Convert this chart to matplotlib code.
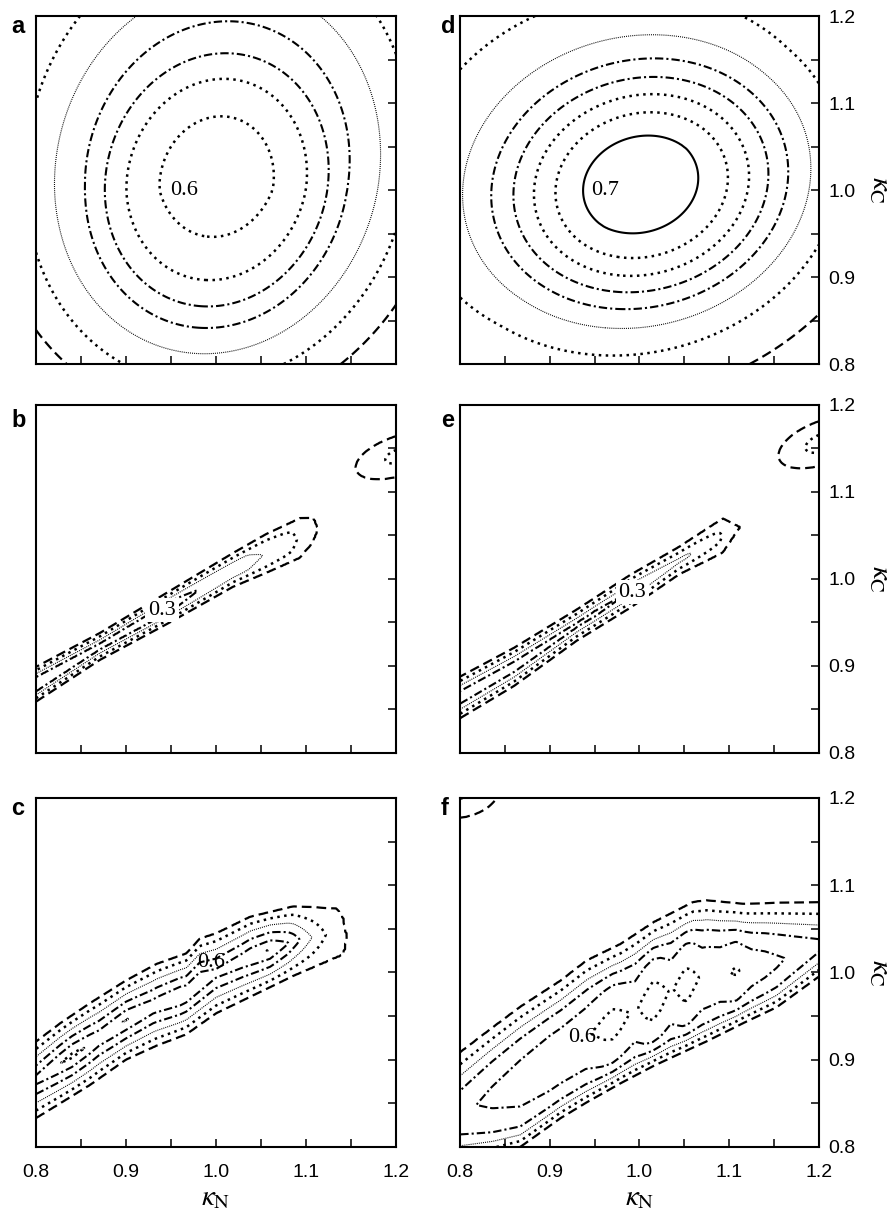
import numpy as np
import matplotlib
matplotlib.use("Agg")
import matplotlib.pyplot as plt
from matplotlib.ticker import MultipleLocator, FormatStrFormatter

plt.rcParams['font.family'] = ['Liberation Sans', 'DejaVu Sans']
plt.rcParams['mathtext.fontset'] = 'stix'
plt.rcParams['lines.scale_dashes'] = False

# contour levels and the line style of each level
levels = [0.0, 0.1, 0.2, 0.3, 0.4, 0.5, 0.6, 0.7]
dash = (0, (7, 3.6))
dot = (0, (1.8, 3.2))
fine = (0, (0.7, 0.8))
dashdot = (0, (6, 2.2, 1.5, 2.2))
styles = [dash, dot, fine, dashdot, dashdot, dot, dot, 'solid']
widths = [1.6, 1.8, 0.8, 1.5, 1.5, 1.8, 1.8, 1.5]

# --- a: single peak (radial profile, radius measured along kappa_N)
a_centre = [1.0, 1.0]
a_shape = [1.17, 0.08]          # kappa_C stretch, correlation
a_radius = [0.0, 0.063, 0.100, 0.124, 0.146, 0.180, 0.212, 0.255, 0.45]
a_value = [0.66, 0.6, 0.5, 0.4, 0.3, 0.2, 0.1, 0.0, -0.4]
a_tilt = [0.0, 0.3]             # slope along kappa_N, kappa_C

# --- d: single peak
d_centre = [1.006, 1.003]
d_shape = [0.87, 0.10]
d_radius = [0.0, 0.066, 0.0965, 0.120, 0.142, 0.165, 0.192, 0.232, 0.310, 0.45]
d_value = [0.78, 0.7, 0.6, 0.5, 0.4, 0.3, 0.2, 0.1, 0.0, -0.4]
d_tilt = [-0.15, 0.15]

# --- b: narrow ridge (edges of the ridge, crest height along kappa_N)
b_x = [0.80, 0.871, 0.945, 1.019, 1.056, 1.093, 1.108, 1.114, 1.20]
b_upper = [0.899, 0.938, 0.984, 1.030, 1.052, 1.070, 1.071, 1.058, 0.90]
b_lower = [0.859, 0.907, 0.948, 0.991, 1.007, 1.024, 1.042, 1.058, 1.20]
b_inset = [-0.05, 0.0, 0.004, 0.008, 0.012, 0.03]
b_ramp = [-1.4, 0.0, 0.286, 0.571, 0.857, 1.14]
b_crest_x = [0.80, 0.95, 0.975, 1.027, 1.075, 1.112, 1.20]
b_crest_v = [0.36, 0.35, 0.32, 0.25, 0.15, 0.02, 0.0]
b_spot_centre = [1.205, 1.142]
b_spot_shape = [0.55, 0.5]
b_spot_radius = [0.0, 0.017, 0.05, 0.10]
b_spot_value = [0.14, 0.1, 0.0, -0.3]

# --- e: narrow ridge
e_x = [0.80, 0.86, 0.93, 0.99, 1.044, 1.093, 1.113, 1.20]
e_upper = [0.888, 0.921, 0.965, 1.005, 1.037, 1.070, 1.060, 0.90]
e_lower = [0.840, 0.877, 0.929, 0.967, 1.005, 1.030, 1.060, 1.20]
e_inset = [-0.05, 0.0, 0.005, 0.010, 0.015, 0.035]
e_crest_x = [0.80, 0.95, 1.00, 1.05, 1.083, 1.111, 1.20]
e_crest_v = [0.34, 0.35, 0.32, 0.25, 0.15, 0.02, 0.0]
e_spot_centre = [1.205, 1.157]
e_spot_shape = [0.6, 0.5]
e_spot_radius = [0.0, 0.02, 0.05, 0.10]
e_spot_value = [0.14, 0.1, 0.0, -0.3]

# --- c: broad ridge ending near kappa_N = 1.14
c_x = [0.80, 0.827, 0.86, 0.90, 0.934, 0.967, 0.982, 1.00, 1.038, 1.086, 1.134, 1.142, 1.146, 1.20]
c_upper = [0.921, 0.942, 0.965, 0.991, 1.010, 1.022, 1.039, 1.045, 1.064, 1.076, 1.074, 1.062, 1.040, 0.90]
c_lower = [0.833, 0.850, 0.871, 0.900, 0.916, 0.929, 0.940, 0.953, 0.972, 0.996, 1.017, 1.020, 1.040, 1.20]
c_inset = [-0.05, 0.0, 0.008, 0.016, 0.025, 0.035, 0.046, 0.07]
c_ramp = [-1.0, 0.0, 0.2, 0.4, 0.6, 0.8, 1.0, 1.2]
c_crest_x = [0.80, 0.84, 0.87, 0.90, 0.93, 0.96, 1.00, 1.03, 1.06, 1.08, 1.10, 1.12, 1.142, 1.20]
c_crest_v = [0.46, 0.52, 0.47, 0.51, 0.46, 0.49, 0.44, 0.47, 0.53, 0.45, 0.30, 0.15, 0.02, 0.0]

# --- f: wide plateau band
f_x = [0.80, 0.837, 0.867, 0.912, 0.941, 0.979, 1.016, 1.060, 1.075, 1.116, 1.153, 1.20]
f_upper = [0.909, 0.938, 0.961, 0.991, 1.014, 1.033, 1.058, 1.081, 1.083, 1.079, 1.080, 1.081]
f_lower = [0.785, 0.792, 0.800, 0.833, 0.851, 0.873, 0.893, 0.914, 0.921, 0.942, 0.960, 0.995]
f_inset_up = [-0.05, 0.0, 0.011, 0.021, 0.031, 0.045, 0.075, 0.12]
f_inset_lo = [-0.05, 0.0, 0.006, 0.012, 0.019, 0.030, 0.060, 0.12]
f_ramp = [-1.0, 0.0, 0.2, 0.4, 0.6, 0.8, 1.0, 1.2]
f_crest_x = [0.80, 0.835, 0.90, 0.94, 0.97, 0.995, 1.015, 1.035, 1.052, 1.07, 1.09,
             1.108, 1.125, 1.14, 1.172, 1.20]
f_crest_v = [0.38, 0.42, 0.46, 0.465, 0.515, 0.465, 0.525, 0.465, 0.51, 0.465, 0.47,
             0.503, 0.47, 0.46, 0.42, 0.39]
f_spot_centre = [0.79, 1.215]
f_spot_shape = [0.7, 0.0]
f_spot_radius = [0.0, 0.025, 0.055, 0.10]
f_spot_value = [0.15, 0.1, 0.0, -0.3]

# contour label positions (kappa_N, kappa_C) and the level they name
label_pos = {'a': (0.964, 1.000, 0.6), 'd': (0.962, 0.999, 0.7),
             'b': (0.940, 0.964, 0.3), 'e': (0.992, 0.985, 0.3),
             'c': (0.995, 1.011, 0.6), 'f': (0.936, 0.926, 0.6)}


def peak(X, Y, centre, shape, radius, value, tilt=(0.0, 0.0)):
    dx = X - centre[0]
    dy = (Y - centre[1]) / shape[0]
    rho = shape[1]
    r = np.sqrt(np.maximum(dx**2 + dy**2 - 2 * rho * dx * dy, 0) / (1 - rho**2))
    return np.interp(r, radius, value) + tilt[0] * dx + tilt[1] * (Y - centre[1])


def band(X, Y, xs, upper, lower, inset_up, ramp_up, inset_lo, ramp_lo, crest_x, crest_v):
    U = np.interp(X, xs, upper)
    L = np.interp(X, xs, lower)
    s = np.minimum(np.interp(U - Y, inset_up, ramp_up),
                   np.interp(Y - L, inset_lo, ramp_lo))
    crest = np.interp(X, crest_x, crest_v)
    return np.where(s > 0, crest * s, s)


kn = np.linspace(0.8, 1.2, 241)
KN, KC = np.meshgrid(kn, kn)

Z = {}
Z['a'] = peak(KN, KC, a_centre, a_shape, a_radius, a_value, a_tilt)
Z['d'] = peak(KN, KC, d_centre, d_shape, d_radius, d_value, d_tilt)
Z['b'] = np.maximum(band(KN, KC, b_x, b_upper, b_lower, b_inset, b_ramp, b_inset, b_ramp,
                         b_crest_x, b_crest_v),
                    peak(KN, KC, b_spot_centre, b_spot_shape, b_spot_radius, b_spot_value))
Z['e'] = np.maximum(band(KN, KC, e_x, e_upper, e_lower, e_inset, b_ramp, e_inset, b_ramp,
                         e_crest_x, e_crest_v),
                    peak(KN, KC, e_spot_centre, e_spot_shape, e_spot_radius, e_spot_value))
Z['c'] = band(KN, KC, c_x, c_upper, c_lower, c_inset, c_ramp, c_inset, c_ramp,
              c_crest_x, c_crest_v)
Z['f'] = np.maximum(band(KN, KC, f_x, f_upper, f_lower, f_inset_up, f_ramp, f_inset_lo, f_ramp,
                         f_crest_x, f_crest_v),
                    peak(KN, KC, f_spot_centre, f_spot_shape, f_spot_radius, f_spot_value))

fig = plt.figure(figsize=(8.92, 12.22), dpi=100)
cols = [0.0404, 0.5160]
col_w = [0.4036, 0.4018]
rows = [0.7021, 0.3838, 0.0614]
row_h = [0.2848, 0.2848, 0.2856]
names = [['a', 'd'], ['b', 'e'], ['c', 'f']]
letter_x = [0.013, 0.494]
letter_y = [1 - 33 / 1222, 1 - 427 / 1222, 1 - 815 / 1222]

for i in range(3):
    for j in range(2):
        name = names[i][j]
        ax = fig.add_axes([cols[j], rows[i], col_w[j], row_h[i]])
        ax.contour(KN, KC, Z[name], levels=levels, colors='k',
                   linestyles=styles, linewidths=widths)
        x, y, lev = label_pos[name]
        box = None
        if name in ('b', 'e'):
            box = dict(facecolor='white', edgecolor='none', pad=2)
        ax.text(x, y, f"{lev:.1f}", ha='center', va='center', fontsize=16,
                family='Liberation Serif', zorder=5, bbox=box)
        ax.set_xlim(0.8, 1.2)
        ax.set_ylim(0.8, 1.2)
        ax.xaxis.set_major_locator(MultipleLocator(0.1))
        ax.xaxis.set_minor_locator(MultipleLocator(0.05))
        ax.yaxis.set_major_locator(MultipleLocator(0.1))
        ax.yaxis.set_minor_locator(MultipleLocator(0.05))
        ax.xaxis.set_major_formatter(FormatStrFormatter('%.1f'))
        ax.yaxis.set_major_formatter(FormatStrFormatter('%.1f'))
        ax.tick_params(which='both', direction='in', length=6, width=1.1,
                       top=False, left=False, right=True, bottom=True,
                       labelleft=False, labelright=(j == 1), labelbottom=(i == 2),
                       labelsize=14)
        ax.tick_params(axis='x', pad=12)
        ax.tick_params(axis='y', pad=7)
        for s in ax.spines.values():
            s.set_linewidth(1.5)
        if i == 2:
            ax.set_xlabel(r'$\kappa_{\mathrm{N}}$', fontsize=21, labelpad=2)
        if j == 1:
            ax.yaxis.set_label_position('right')
            ax.set_ylabel(r'$\kappa_{\mathrm{C}}$', fontsize=21, rotation=270,
                          labelpad=28)
        fig.text(letter_x[j], letter_y[i], name, fontsize=17, fontweight='bold',
                 ha='left', va='baseline')

fig.savefig('out.png', dpi=100)
